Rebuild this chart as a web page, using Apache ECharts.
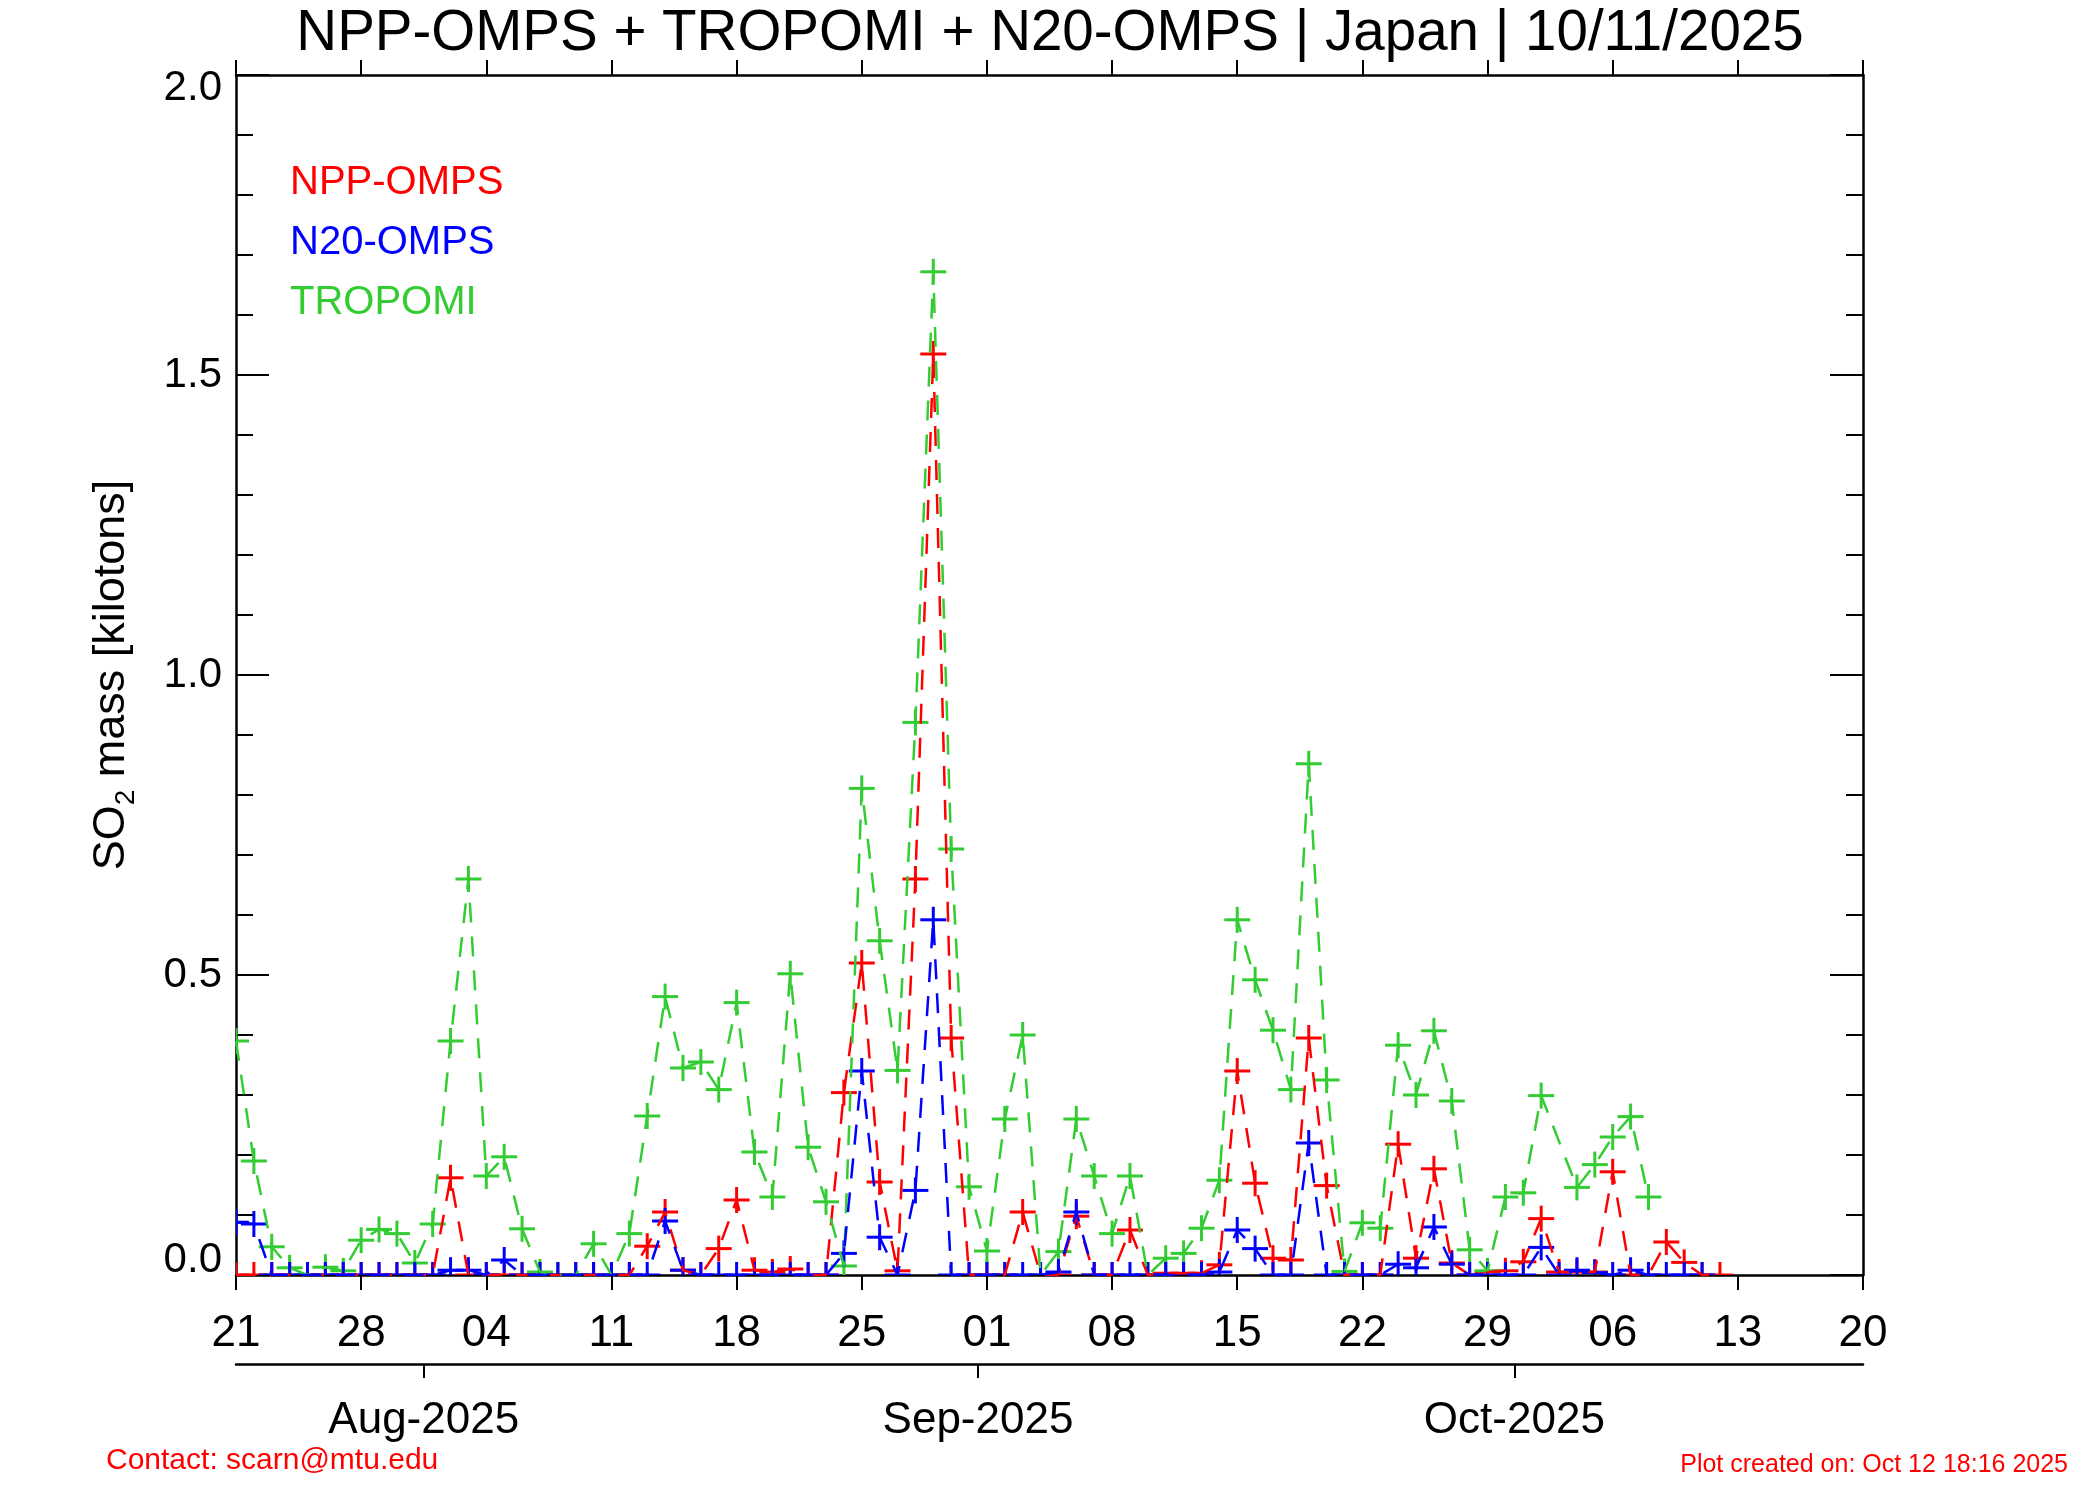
<!DOCTYPE html>
<html>
<head>
<meta charset="utf-8">
<title>SO2 mass - Japan</title>
<script src="https://cdn.jsdelivr.net/npm/echarts@6/dist/echarts.min.js"></script>
<style>
  html, body { margin: 0; padding: 0; background: #fff; }
  #chart { width: 2100px; height: 1500px; }
</style>
</head>
<body>
<div id="chart"></div>
<script>
// day 0 = 21 Jul 2025, one value per day (rows are weeks)
const startDate = '2025-07-21'
const nppOmps = [
  0, 0, 0, 0, 0, 0, 0,
  0, 0, 0, 0, 0, 0.162, 0,
  0, 0, 0, 0, 0, 0, 0,
  0, 0, 0.048, 0.105, 0.008, 0, 0.044,
  0.125, 0.008, 0.005, 0.01, 0, 0, 0.304,
  0.52, 0.155, 0.007, 0.66, 1.535, 0.395, 0,
  0, 0, 0.105, 0, 0, 0.098, 0,
  0, 0.075, 0, 0.003, 0.003, 0.003, 0.017,
  0.34, 0.153, 0.028, 0.025, 0.395, 0.149, 0,
  0, 0, 0.218, 0.028, 0.177, 0.02, 0,
  0.005, 0.007, 0.022, 0.094, 0.005, 0.005, 0.005,
  0.172, 0, 0, 0.055, 0.021, 0, 0
]
const n20Omps = [
  0.088, 0.085, 0, 0, 0, 0, 0,
  0, 0, 0, 0, 0, 0.008, 0.008,
  0, 0.025, 0, 0, 0, 0, 0,
  0, 0, 0, 0.09, 0.008, 0, 0,
  0, 0, 0, 0, 0, 0, 0.036,
  0.34, 0.063, 0, 0.141, 0.592, 0, 0,
  0, 0, 0, 0, 0.005, 0.105, 0,
  0, 0, 0, 0, 0, 0, 0.005,
  0.075, 0.044, 0, 0, 0.22, 0, 0,
  0, 0, 0.018, 0.012, 0.08, 0.018, 0,
  0, 0, 0, 0.046, 0, 0.008, 0.004,
  0, 0.008, 0, 0, 0, 0
]
const tropomi = [
  0.39, 0.19, 0.047, 0.012, 0, 0.013, 0.007,
  0.058, 0.076, 0.069, 0.02, 0.085, 0.39, 0.66,
  0.165, 0.197, 0.077, 0.005, 0, 0, 0.052,
  0, 0.069, 0.265, 0.464, 0.345, 0.355, 0.309,
  0.454, 0.205, 0.13, 0.502, 0.213, 0.122, 0.015,
  0.811, 0.557, 0.341, 0.921, 1.672, 0.71, 0.147,
  0.04, 0.26, 0.4, 0, 0.039, 0.26, 0.165,
  0.069, 0.165, 0, 0.028, 0.036, 0.078, 0.158,
  0.592, 0.492, 0.408, 0.309, 0.852, 0.325, 0.006,
  0.087, 0.078, 0.383, 0.3, 0.407, 0.29, 0.042,
  0.007, 0.13, 0.137, 0.299, null, 0.146, 0.184,
  0.23, 0.264, 0.13
]
const dayLabels = ['21', '28', '04', '11', '18', '25', '01', '08', '15', '22', '29', '06', '13', '20']
const monthTicks = [10.5, 41.5, 71.5]
const monthLabels = ['Aug-2025', 'Sep-2025', 'Oct-2025']
const yTicks = ['0.0', '0.5', '1.0', '1.5', '2.0']

const FONT = '"Liberation Sans", Arial, Helvetica, sans-serif'

function toPairs(arr) {
  let out = []
  arr.forEach(function(v, i) {
    if (v !== null) out.push([i, v])
  })
  return out
}

// dashed connecting line
function makeLine(name, arr, color) {
  return {
    name: name,
    type: 'line',
    data: toPairs(arr),
    showSymbol: false,
    lineStyle: { color: color, width: 2.5, type: [20, 14] },
    emphasis: { disabled: true },
    silent: true,
    z: 3
  }
}

// "+" markers, clipped to the plot box like the original
function makeCrosses(name, arr, color) {
  return {
    name: name,
    type: 'custom',
    data: toPairs(arr),
    clip: true,
    silent: true,
    z: 3,
    encode: { x: 0, y: 1 },
    renderItem: function(params, api) {
      const p = api.coord([api.value(0), api.value(1)])
      const h = 13
      const st = { stroke: color, lineWidth: 3 }
      return {
        type: 'group',
        children: [
          { type: 'line', shape: { x1: p[0] - h, y1: p[1], x2: p[0] + h, y2: p[1] }, style: st },
          { type: 'line', shape: { x1: p[0], y1: p[1] - h, x2: p[0], y2: p[1] + h }, style: st }
        ]
      }
    }
  }
}

const axisLineStyle = { color: '#000', width: 2.5 }
const tickStyle = { color: '#000', width: 2 }

function yAxisFor(pos, withLabels) {
  let ax = {
    type: 'value',
    position: pos,
    min: 0,
    max: 2,
    interval: 0.5,
    axisLine: { show: true, onZero: false, lineStyle: axisLineStyle },
    axisTick: { show: true, inside: true, length: 33, lineStyle: tickStyle },
    minorTick: { show: true, splitNumber: 5, length: 17, lineStyle: tickStyle },
    axisLabel: { show: false },
    splitLine: { show: false },
    minorSplitLine: { show: false }
  }
  if (withLabels) {
    ax.axisLabel = {
      show: true,
      margin: 14,
      fontSize: 42,
      color: '#000',
      formatter: function(v) {
        const i = Math.round(v / 0.5)
        if (i === 0) return '{lo|' + yTicks[i] + '}'
        if (i === yTicks.length - 1) return '{hi|' + yTicks[i] + '}'
        return yTicks[i]
      },
      rich: {
        lo: { fontSize: 42, color: '#000', fontFamily: FONT, padding: [0, 0, 30, 0] },
        hi: { fontSize: 42, color: '#000', fontFamily: FONT, padding: [26, 0, 0, 0] }
      }
    }
    ax.name = '{a|SO}{s|2}{a| mass [kilotons]}'
    ax.nameLocation = 'middle'
    ax.nameRotate = 90
    ax.nameGap = 96
    ax.nameTextStyle = {
      rich: {
        a: { fontSize: 45, lineHeight: 56, color: '#000', fontFamily: FONT },
        s: { fontSize: 28, lineHeight: 28, verticalAlign: 'bottom', color: '#000', fontFamily: FONT }
      }
    }
  }
  return ax
}

const chart = echarts.init(document.getElementById('chart'))
chart.setOption({
  animation: false,
  backgroundColor: '#fff',
  textStyle: { fontFamily: FONT },
  title: [
    {
      text: 'NPP-OMPS + TROPOMI + N20-OMPS | Japan | 10/11/2025',
      left: 'center',
      top: 6,
      padding: 0,
      textStyle: { fontSize: 56.5, fontWeight: 'normal', color: '#000', fontFamily: FONT }
    },
    {
      text: 'Contact: scarn@mtu.edu',
      left: 106,
      top: 1446,
      padding: 0,
      textStyle: { fontSize: 30, fontWeight: 'normal', color: '#ff0000', fontFamily: FONT }
    },
    {
      text: 'Plot created on: Oct 12 18:16 2025',
      right: 32,
      top: 1453,
      padding: 0,
      textStyle: { fontSize: 25, fontWeight: 'normal', color: '#ff0000', fontFamily: FONT }
    }
  ],
  legend: {
    orient: 'vertical',
    left: 280,
    top: 158,
    icon: 'none',
    itemWidth: 0,
    itemHeight: 10,
    itemGap: 20,
    selectedMode: false,
    textStyle: { fontSize: 40, lineHeight: 40, fontFamily: FONT },
    data: [
      { name: 'NPP-OMPS', textStyle: { color: '#ff0000' } },
      { name: 'N20-OMPS', textStyle: { color: '#0000ff' } },
      { name: 'TROPOMI', textStyle: { color: '#33cc33' } }
    ]
  },
  grid: { left: 236, right: 237, top: 75, bottom: 225, containLabel: false },
  xAxis: [
    {
      type: 'value',
      position: 'bottom',
      min: 0,
      max: 91,
      interval: 7,
      axisLine: { show: true, onZero: false, lineStyle: axisLineStyle },
      axisTick: { show: true, length: 15, lineStyle: tickStyle },
      axisLabel: {
        margin: 37,
        fontSize: 44,
        color: '#000',
        showMinLabel: true,
        showMaxLabel: true,
        formatter: function(v) { return dayLabels[Math.round(v / 7)] }
      },
      splitLine: { show: false }
    },
    {
      type: 'value',
      position: 'bottom',
      offset: 89,
      min: 0,
      max: 91,
      axisLine: { show: true, onZero: false, lineStyle: axisLineStyle },
      axisTick: { show: true, length: 14, customValues: monthTicks, lineStyle: tickStyle },
      axisLabel: {
        margin: 35,
        fontSize: 44,
        color: '#000',
        customValues: monthTicks,
        formatter: function(v) { return monthLabels[monthTicks.indexOf(v)] }
      },
      splitLine: { show: false }
    },
    {
      type: 'value',
      position: 'top',
      min: 0,
      max: 91,
      interval: 7,
      axisLine: { show: true, onZero: false, lineStyle: axisLineStyle },
      axisTick: { show: true, length: 15, lineStyle: tickStyle },
      axisLabel: { show: false },
      splitLine: { show: false }
    }
  ],
  yAxis: [
    yAxisFor('left', true),
    yAxisFor('right', false)
  ],
  series: [
    makeLine('NPP-OMPS', nppOmps, '#ff0000'),
    makeCrosses('NPP-OMPS', nppOmps, '#ff0000'),
    makeLine('TROPOMI', tropomi, '#33cc33'),
    makeCrosses('TROPOMI', tropomi, '#33cc33'),
    makeLine('N20-OMPS', n20Omps, '#0000ff'),
    makeCrosses('N20-OMPS', n20Omps, '#0000ff')
  ]
})
</script>
</body>
</html>
